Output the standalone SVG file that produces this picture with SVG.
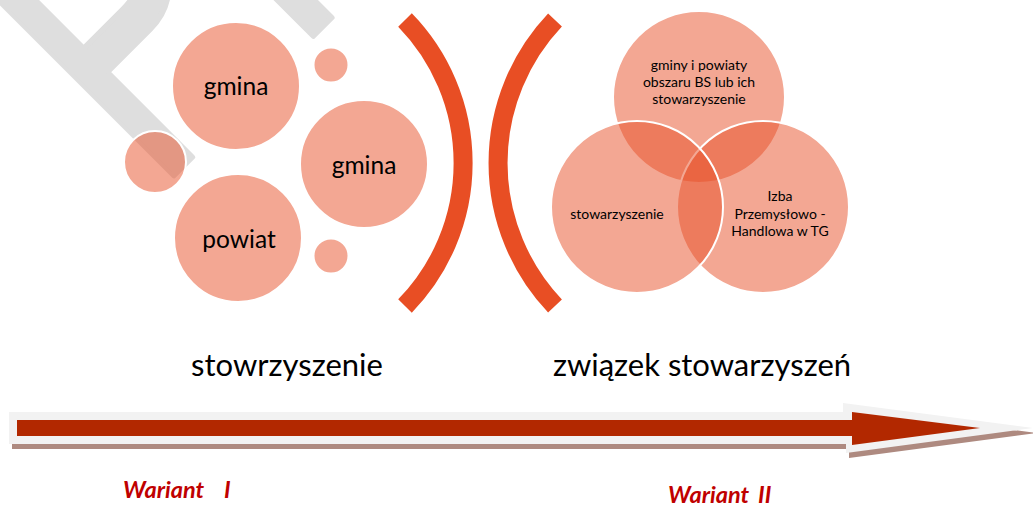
<svg xmlns="http://www.w3.org/2000/svg" width="1033" height="507" viewBox="0 0 1033 507">
<style>
.c{fill:#e85028;fill-opacity:0.5;stroke:#ffffff;stroke-width:2}
.t{font-family:Lato,"Open Sans","Liberation Sans",sans-serif;fill:#000000;text-anchor:middle}
.big{font-size:24.5px}
.sm{font-size:14px}
.lab{font-size:31px}
.war{font-family:Lato,"Liberation Sans",sans-serif;font-size:23.5px;font-weight:bold;font-style:italic;fill:#c00000}
.br{fill:none;stroke:#e84e24;stroke-width:19}
</style>
<rect width="1033" height="507" fill="#ffffff"/>
<g id="watermark">
<text transform="translate(156,193) rotate(-45) scale(0.66,1)" font-family="Liberation Sans" font-size="448" fill="#dedede" stroke="#dedede" stroke-width="6" stroke-linejoin="round">PR</text>
</g>
<g id="node-gmina1"><circle class="c" cx="236" cy="86" r="64"/><text class="t big" x="236" y="95">gmina</text></g>
<g id="node-small1"><circle class="c" cx="331" cy="65" r="17.5"/></g>
<g id="node-small-left"><circle class="c" cx="155" cy="162" r="31"/></g>
<g id="node-gmina2"><circle class="c" cx="364" cy="164" r="64"/><text class="t big" x="364" y="174">gmina</text></g>
<g id="node-powiat"><circle class="c" cx="238" cy="238" r="64"/><text class="t big" x="239" y="248">powiat</text></g>
<g id="node-small2"><circle class="c" cx="331" cy="256" r="17.5"/></g>
<g id="brackets">
<path class="br" d="M405,20 A205,205 0 0 1 405,306"/>
<path class="br" d="M555,20 A208,208 0 0 0 555,306"/>
</g>
<g id="node-venn-top"><circle class="c" cx="699" cy="97" r="86"/></g>
<g id="node-venn-right"><circle class="c" cx="763" cy="207" r="86"/></g>
<g id="node-venn-left"><circle class="c" cx="637" cy="207" r="86"/></g>
<g id="venn-labels">
<text class="t sm" x="699" y="70">gminy i powiaty</text>
<text class="t sm" x="699" y="87">obszaru BS lub ich</text>
<text class="t sm" x="699" y="104">stowarzyszenie</text>
<text class="t sm" x="617" y="219">stowarzyszenie</text>
<text class="t sm" x="780" y="201">Izba</text>
<text class="t sm" x="780" y="219">Przemysłowo -</text>
<text class="t sm" x="780" y="236">Handlowa w TG</text>
</g>
<g id="labels">
<text class="t lab" x="287" y="376">stowrzyszenie</text>
<text class="t lab" x="702" y="376">związek stowarzyszeń</text>
<text class="war" x="123" y="498" xml:space="preserve">Wariant  <tspan x="224">I</tspan></text>
<text class="war" x="668" y="503" xml:space="preserve">Wariant  <tspan x="758">II</tspan></text>
</g>
<g id="connectors">
<polygon points="12,417 846,417 846,408 1036,433 849,458 849,449 12,449" fill="#ae8a80"/>
<polygon points="9,412 843,412 843,403 1033,428 846,453 846,444 9,444" fill="#f2f2f2"/>
<polygon points="17,420 852,420 852,412 980,428 852,445 852,436 17,436" fill="#b22800"/>
</g>
</svg>
